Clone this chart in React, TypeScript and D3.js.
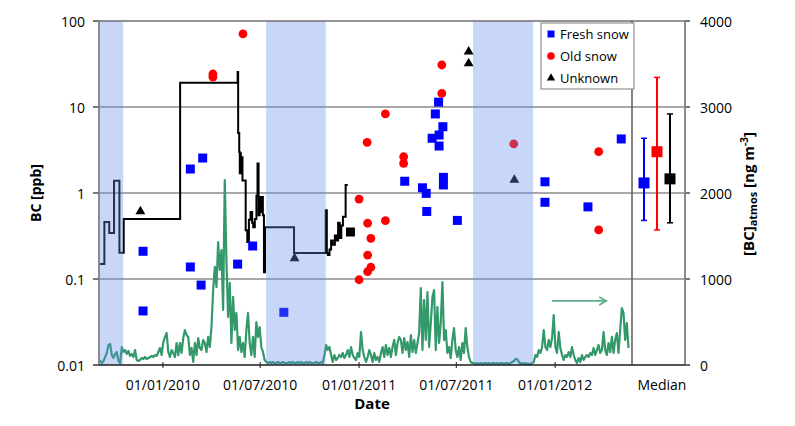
import React from 'react';
import * as d3 from 'd3';

// ---------- data ----------
const DATE_DOMAIN = ['2009-09-04', '2012-05-23'];
const X_TICKS = ['2010-01-01', '2010-07-01', '2011-01-01', '2011-07-01', '2012-01-01'];
const Y_TICKS = [0.01, 0.1, 1, 10, 100];
const Y2_TICKS = [0, 1000, 2000, 3000, 4000];

const BANDS: [string, string][] = [
  ['2009-09-04', '2009-10-19'],
  ['2010-07-12', '2010-10-31'],
  ['2011-08-01', '2011-11-21'],
];

const FRESH: [string, number][] = [
  ['2009-11-25', 0.21], ['2009-11-25', 0.0425],
  ['2010-02-21', 1.9], ['2010-02-21', 0.138],
  ['2010-03-16', 2.55], ['2010-03-13', 0.085],
  ['2010-05-20', 0.149], ['2010-06-17', 0.242], ['2010-08-14', 0.041],
  ['2011-03-27', 1.37], ['2011-04-29', 1.15], ['2011-05-06', 0.99], ['2011-05-07', 0.61],
  ['2011-05-17', 4.33], ['2011-05-23', 8.3], ['2011-05-29', 11.4], ['2011-05-30', 3.52], ['2011-05-30', 4.72],
  ['2011-06-06', 5.9], ['2011-06-07', 1.52], ['2011-06-07', 1.24], ['2011-07-03', 0.48],
  ['2011-12-13', 1.35], ['2011-12-13', 0.78], ['2012-03-02', 0.69], ['2012-05-03', 4.25],
];

const OLD: [string, number][] = [
  ['2010-04-04', 24.2], ['2010-04-04', 22.3], ['2010-05-30', 70.7],
  ['2011-01-01', 0.85], ['2011-01-01', 0.098],
  ['2011-01-16', 3.88], ['2011-01-17', 0.445], ['2011-01-17', 0.19], ['2011-01-17', 0.122],
  ['2011-01-23', 0.297], ['2011-01-23', 0.137],
  ['2011-02-19', 8.3], ['2011-02-19', 0.477],
  ['2011-03-25', 2.64], ['2011-03-25', 2.21],
  ['2011-06-04', 30.8], ['2011-06-04', 14.4],
  ['2011-10-16', 3.72], ['2012-03-22', 3.02], ['2012-03-22', 0.372],
];

const UNKNOWN: [string, number][] = [
  ['2009-11-20', 0.61], ['2010-09-03', 0.174],
  ['2011-07-24', 44], ['2011-07-24', 32.2], ['2011-10-17', 1.42],
];

const OTHER_SQUARE: [string, number][] = [['2010-12-16', 0.352]];

// stepwise BC in snow (value holds from the given date onwards)
const STEP: [string, number][] = [
  ['2009-09-04', 0.149], ['2009-09-14', 0.46], ['2009-09-23', 0.343], ['2009-10-02', 1.39],
  ['2009-10-12', 0.202], ['2009-10-20', 0.5], ['2010-02-02', 19.2], ['2010-05-20', 25.5],
  ['2010-05-21', 5.0], ['2010-05-23', 3.0], ['2010-05-24', 1.7], ['2010-05-25', 2.9],
  ['2010-05-26', 1.7], ['2010-05-27', 2.6], ['2010-05-29', 1.4], ['2010-06-04', 0.37],
  ['2010-06-07', 0.27], ['2010-06-10', 0.49], ['2010-06-13', 0.6], ['2010-06-16', 0.45],
  ['2010-06-18', 0.4], ['2010-06-21', 0.5], ['2010-06-24', 0.93], ['2010-06-26', 2.2],
  ['2010-06-28', 0.55], ['2010-06-30', 0.9], ['2010-07-02', 0.6], ['2010-07-04', 0.9],
  ['2010-07-06', 0.55], ['2010-07-08', 0.12], ['2010-07-10', 0.4], ['2010-09-02', 0.2],
  ['2010-10-31', 0.63], ['2010-11-02', 0.2], ['2010-11-04', 0.19], ['2010-11-07', 0.22],
  ['2010-11-10', 0.28], ['2010-11-13', 0.25], ['2010-11-17', 0.32], ['2010-11-20', 0.28],
  ['2010-11-23', 0.45], ['2010-11-26', 0.3], ['2010-11-29', 0.42], ['2010-12-02', 0.53],
  ['2010-12-07', 1.24], ['2010-12-11', 1.24],
];

// atmospheric BC [ng m-3], regular sampling
const GREEN_START = '2009-08-31';
const GREEN_STEP_DAYS = 3.092;
const GREEN: number[] = [
  35, 35, 47, 23, 47, 93, 140, 233, 244, 116, 81, 128, 151, 47, 23, 209, 151, 174, 128, 163,
  105, 128, 93, 174, 58, 47, 58, 81, 70, 93, 70, 81, 93, 105, 93, 116, 105, 151, 198, 116,
  267, 326, 372, 151, 93, 174, 140, 93, 256, 116, 256, 140, 314, 407, 349, 326, 116, 198, 35, 256,
  116, 314, 198, 174, 291,
  256, 151, 326, 209, 442, 872, 1140, 907, 1430, 1105, 1337, 640, 2151, 1209, 558, 954, 256, 791, 407, 605,
  174, 326, 151, 256, 93, 407, 605, 256, 116, 326, 93, 500, 326, 442, 209, 151, 58,
  35, 23, 35, 23, 35, 23, 23, 35, 23, 23, 35, 23, 23, 23, 35, 23, 35, 23, 23, 35, 23, 35, 23, 23, 35, 23, 35, 23,
  23, 23, 35, 23, 23, 35, 23, 116, 233, 174, 209, 116, 35, 116, 58, 81, 116, 93, 140, 81,
  116, 174, 93, 209, 116, 81, 58, 140, 93, 384, 174, 93, 35, 93, 174, 116, 35, 140, 58, 93,
  35, 140, 209, 93, 233, 116, 198, 93, 209, 291, 116, 256, 326, 291, 140, 314, 174, 267, 93, 349,
  151, 291, 140, 256, 372,
  895, 174, 756, 291, 849, 209, 488, 791, 872, 174, 674, 256, 488, 965, 291, 407, 140, 209, 81, 291,
  430, 174, 93, 209, 58, 256, 140, 430, 209, 93, 35, 23,
  23, 12, 23, 12, 23, 12, 23, 23, 12, 23, 12, 23, 23, 12, 23, 12, 23, 23, 12, 23, 23, 12, 23,
  35, 47, 70, 70, 35, 12, 23, 12, 23, 12,
  12, 12, 23, 35, 116, 93, 174, 140, 209, 407, 209, 174, 291, 209, 314, 581, 209, 140, 384, 198,
  116, 58, 116, 93, 151, 93, 209, 116, 58, 23, 81, 35, 116, 58, 93, 116, 93, 140, 116, 198,
  116, 174, 233, 140, 174, 384, 174, 116, 256, 151, 326, 140, 291, 372, 140, 407, 663, 605, 291, 488,
  198,
];

const MEDIAN_CATS = ['Fresh snow', 'Old snow', 'Unknown'];
const MEDIAN_VAL = [1.31, 3.02, 1.46];
const MEDIAN_LO = [0.48, 0.372, 0.45];
const MEDIAN_HI = [4.33, 22.1, 8.3];
const MEDIAN_COLORS = ['#0000ff', '#ff0000', '#000000'];

const ARROW: [string, number][] = [['2011-12-26', 745], ['2012-04-05', 745]];

// ---------- layout ----------
const W = 795, H = 426;
const LEFT = 99, RIGHT = 632, RIGHT2 = 685, TOP = 21, BOTTOM = 365;
const FONT = '"Open Sans", sans-serif';
const BLUE = '#0000ff', RED = '#ff0000', GREEN_COL = '#33996b';

const parse = d3.timeParse('%Y-%m-%d');
const P = (s: string) => parse(s) as Date;

export default function App() {
  const x = d3.scaleTime().domain(DATE_DOMAIN.map(P)).range([LEFT, RIGHT]);
  const y = d3.scaleLog().domain([0.01, 100]).range([BOTTOM, TOP]);
  const y2 = d3.scaleLinear().domain([0, 4000]).range([BOTTOM, TOP]);
  const xm = d3.scalePoint<string>().domain(MEDIAN_CATS).range([644, 670]);
  const fmt = d3.timeFormat('%d/%m/%Y');

  const g0 = P(GREEN_START).getTime();
  const greenPts: [Date, number][] = GREEN.map((v, i) => [new Date(g0 + i * GREEN_STEP_DAYS * 864e5), v]);
  const greenLine = d3.line<[Date, number]>().x(d => x(d[0])).y(d => y2(d[1]));
  const stepLine = d3.line<[string, number]>().x(d => x(P(d[0]))).y(d => y(d[1])).curve(d3.curveStepAfter);

  const tri = d3.symbol().type(d3.symbolTriangle).size(42)();
  const triLegend = d3.symbol().type(d3.symbolTriangle).size(30)();

  const ax1 = x(P(ARROW[0][0])), ax2 = x(P(ARROW[1][0])), ay = y2(ARROW[0][1]);

  return (
    <svg width={W} height={H} style={{ position: 'absolute', left: 0, top: 0, background: '#fff' }} fontFamily={FONT}>
      <defs>
        <clipPath id="plotclip">
          <rect x={LEFT} y={TOP} width={RIGHT - LEFT} height={BOTTOM - TOP} />
        </clipPath>
      </defs>

      {/* gridlines */}
      {Y_TICKS.filter(t => t > 0.01 && t < 100).map(t => (
        <line key={'g' + t} x1={93} x2={690} y1={y(t)} y2={y(t)} stroke="#8c8c8c" strokeWidth={1.6} />
      ))}

      {/* green atmospheric series */}
      <path d={greenLine(greenPts) || ''} fill="none" stroke={GREEN_COL} strokeWidth={2.2} strokeLinejoin="round" clipPath="url(#plotclip)" />

      {/* arrow */}
      <line x1={ax1} x2={ax2} y1={ay} y2={ay} stroke="#5fae8c" strokeWidth={1.8} />
      <path d={`M${ax2 - 7},${ay - 4} L${ax2},${ay} L${ax2 - 7},${ay + 4}`} fill="none" stroke="#5fae8c" strokeWidth={1.8} />

      {/* black step line */}
      <path d={stepLine(STEP) || ''} fill="none" stroke="#000" strokeWidth={2} />

      {/* markers */}
      {FRESH.map((d, i) => (
        <rect key={'f' + i} x={x(P(d[0])) - 4.5} y={y(d[1]) - 4.5} width={9} height={9} fill={BLUE} />
      ))}
      {OLD.map((d, i) => (
        <circle key={'o' + i} cx={x(P(d[0]))} cy={y(d[1])} r={4.4} fill={RED} />
      ))}
      {UNKNOWN.map((d, i) => (
        <path key={'u' + i} d={tri || ''} transform={`translate(${x(P(d[0]))},${y(d[1])})`} fill="#000" />
      ))}
      {OTHER_SQUARE.map((d, i) => (
        <rect key={'b' + i} x={x(P(d[0])) - 4.5} y={y(d[1]) - 4.5} width={9} height={9} fill="#000" />
      ))}

      {/* shaded periods (semi-transparent overlay) */}
      {BANDS.map((b, i) => (
        <rect key={'band' + i} x={x(P(b[0]))} y={TOP} width={x(P(b[1])) - x(P(b[0]))} height={BOTTOM - TOP}
          fill="rgb(98,141,235)" fillOpacity={0.35} />
      ))}

      {/* medians */}
      {MEDIAN_CATS.map((c, i) => {
        const cx = xm(c) as number;
        return (
          <g key={'m' + c}>
            <line x1={cx} x2={cx} y1={y(MEDIAN_HI[i])} y2={y(MEDIAN_LO[i])} stroke={MEDIAN_COLORS[i]} strokeWidth={2} />
            <line x1={cx - 3} x2={cx + 3} y1={y(MEDIAN_HI[i])} y2={y(MEDIAN_HI[i])} stroke={MEDIAN_COLORS[i]} strokeWidth={1.5} />
            <line x1={cx - 3} x2={cx + 3} y1={y(MEDIAN_LO[i])} y2={y(MEDIAN_LO[i])} stroke={MEDIAN_COLORS[i]} strokeWidth={1.5} />
            <rect x={cx - 5.5} y={y(MEDIAN_VAL[i]) - 5.5} width={11} height={11} fill={MEDIAN_COLORS[i]} />
          </g>
        );
      })}

      {/* frame / axes */}
      <line x1={93} x2={690} y1={TOP} y2={TOP} stroke="#6f6f6f" strokeWidth={1.6} />
      <line x1={LEFT} x2={LEFT} y1={TOP} y2={BOTTOM} stroke="#8c8c8c" strokeWidth={2} />
      <line x1={RIGHT} x2={RIGHT} y1={TOP} y2={BOTTOM} stroke="#5a5a5a" strokeWidth={1.5} />
      <line x1={RIGHT2} x2={RIGHT2} y1={TOP} y2={BOTTOM} stroke="#8c8c8c" strokeWidth={2} />
      <line x1={93} x2={690} y1={BOTTOM} y2={BOTTOM} stroke="#1a1a1a" strokeWidth={1.6} />

      {/* left ticks */}
      {Y_TICKS.map(t => (
        <g key={'yt' + t}>
          <line x1={93} x2={LEFT} y1={y(t)} y2={y(t)} stroke="#6f6f6f" strokeWidth={1.6} />
          <text x={85} y={y(t)} textAnchor="end" dominantBaseline="central" fontSize={14} fill="#000">{String(t)}</text>
        </g>
      ))}
      {/* right ticks */}
      {Y2_TICKS.map(t => (
        <g key={'y2t' + t}>
          <line x1={RIGHT2} x2={690} y1={y2(t)} y2={y2(t)} stroke="#6f6f6f" strokeWidth={1.6} />
          <text x={700} y={y2(t)} dominantBaseline="central" fontSize={14} fill="#000">{String(t)}</text>
        </g>
      ))}
      {/* x ticks */}
      {X_TICKS.map(t => {
        const xx = x(P(t));
        return (
          <g key={'xt' + t}>
            <line x1={xx} x2={xx} y1={BOTTOM - 3} y2={BOTTOM + 3} stroke="#1a1a1a" strokeWidth={1} />
            <text x={xx} y={390} textAnchor="middle" fontSize={14} fill="#000">{fmt(P(t))}</text>
          </g>
        );
      })}
      <text x={662} y={390} textAnchor="middle" fontSize={14} fill="#000">Median</text>

      {/* axis titles */}
      <text x={372} y={409} textAnchor="middle" fontSize={15} fontWeight="bold" fill="#000">Date</text>
      <text transform="translate(41,193) rotate(-90)" textAnchor="middle" fontSize={14} fontWeight="bold" fill="#000">BC [ppb]</text>
      <text transform="translate(754,194) rotate(-90)" textAnchor="middle" fontSize={15} fontWeight="bold" fill="#000">
        [BC]<tspan fontSize={11} dy={3}>atmos</tspan><tspan dy={-3}> [ng m</tspan><tspan fontSize={10} dy={-6}>-3</tspan><tspan dy={6}>]</tspan>
      </text>

      {/* legend */}
      <rect x={541} y={23} width={93} height={66} fill="#fff" stroke="#7f7f7f" strokeWidth={1} />
      <rect x={547.5} y={30.5} width={7} height={7} fill={BLUE} />
      <text x={560} y={34} dominantBaseline="central" fontSize={13} fill="#000">Fresh snow</text>
      <circle cx={551} cy={56} r={3.8} fill={RED} />
      <text x={560} y={56} dominantBaseline="central" fontSize={13} fill="#000">Old snow</text>
      <path d={triLegend || ''} transform="translate(551,78)" fill="#000" />
      <text x={560} y={78} dominantBaseline="central" fontSize={13} fill="#000">Unknown</text>
    </svg>
  );
}
